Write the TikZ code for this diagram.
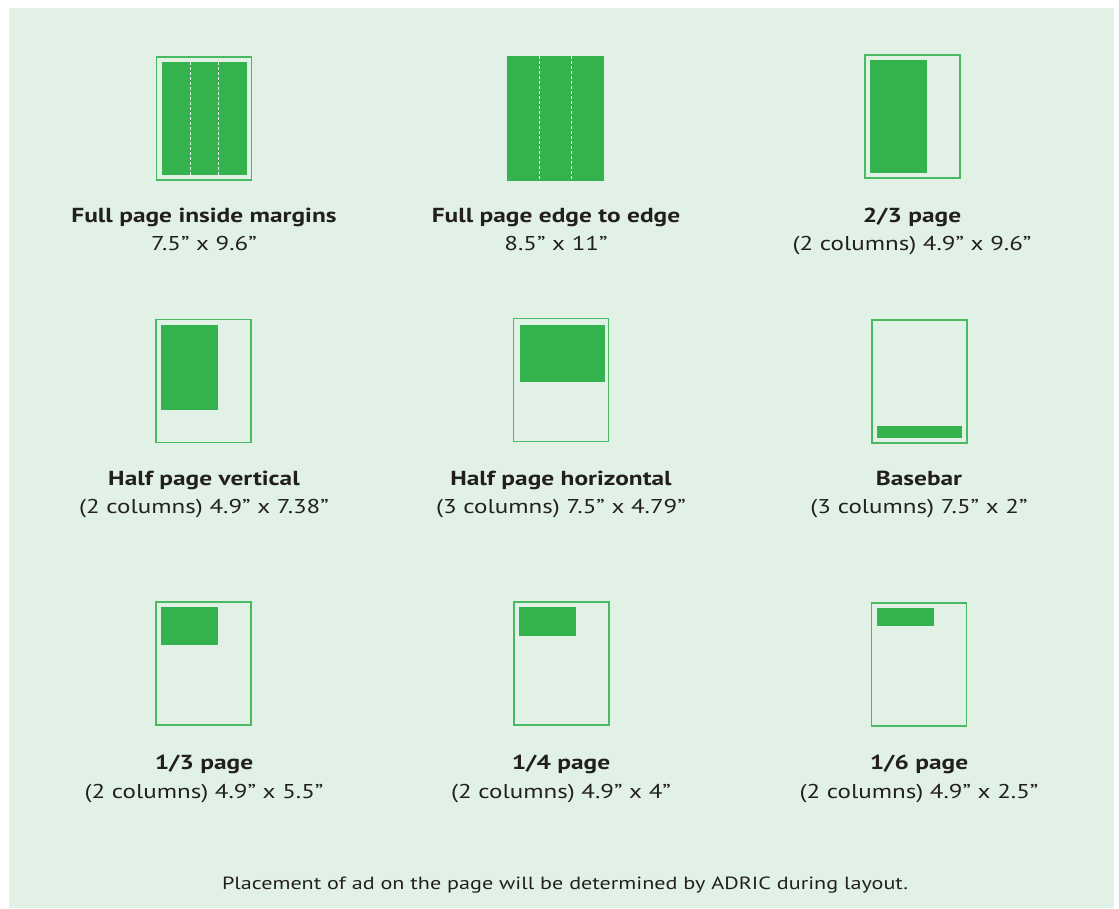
\documentclass[tikz,border=0pt]{standalone}
\usepackage{fontspec}
\setmainfont[FakeStretch=1.25]{PT Sans}
\usetikzlibrary{positioning,calc}
\definecolor{AdBack}{RGB}{225,241,230}
\definecolor{AdGreen}{RGB}{51,178,77}
\definecolor{AdLine}{RGB}{72,187,98}
\definecolor{AdText}{RGB}{35,31,32}
\tikzset{
  ad/page/.style={
    draw=AdLine,
    line width=1.3pt,
    fill=AdBack,
    inner sep=0pt,
    outer sep=0pt,
    minimum width=95pt,
    minimum height=123pt
  },
  ad/fill/.style={fill=AdGreen, inner sep=0pt, outer sep=0pt},
  ad/colline/.style={draw=AdBack!60!white, line width=0.9pt, dash pattern=on 3pt off 2pt},
  ad/title/.style={font=\fontsize{20.3}{24}\selectfont\bfseries, text=AdText, anchor=base, inner sep=0pt},
  ad/size/.style={font=\fontsize{20}{24}\selectfont, text=AdText, anchor=base, inner sep=0pt},
  ad/note/.style={font=\fontsize{17.7}{22}\selectfont, text=AdText, anchor=base, inner sep=0pt}
}

\begin{document}
\begin{tikzpicture}[x=1pt,y=-1pt]
  \useasboundingbox (0,0) rectangle (1119,908);
  \fill[AdBack] (9,8) rectangle (1114,908);

  % row 1
  \node[ad/page] (p1) at (204,118.5) {};
  \node[ad/fill,minimum width=85pt,minimum height=113pt] (f1) at (204.5,118.5) {};
  \node[ad/fill,minimum width=97pt,minimum height=125pt] (f2) at (555.5,118.5) {};
  \node[ad/page] (p3) at (912.5,116.5) {};
  \node[ad/fill,minimum width=57pt,minimum height=113pt,below right=5pt and 5pt of p3.north west] (f3) {};
  \foreach \f in {f1,f2}{
    \draw[ad/colline] ($(\f.north west)!1/3!(\f.north east)$) -- ($(\f.south west)!1/3!(\f.south east)$);
    \draw[ad/colline] ($(\f.north west)!2/3!(\f.north east)$) -- ($(\f.south west)!2/3!(\f.south east)$);
  }
  \node[ad/title] (t1) at (204,222) {Full page inside margins};
  \node[ad/size] (s1) at (204,250) {7.5” x 9.6”};
  \node[ad/title] (t2) at (556,222) {Full page edge to edge};
  \node[ad/size] (s2) at (556,250) {8.5” x 11”};
  \node[ad/title] (t3) at (912,222) {2/3 page};
  \node[ad/size] (s3) at (912,250) {(2 columns) 4.9” x 9.6”};

  % row 2
  \node[ad/page] (p4) at (203.5,381) {};
  \node[ad/fill,minimum width=57pt,minimum height=85pt,below right=5pt and 5pt of p4.north west] (f4) {};
  \node[ad/page] (p5) at (561,380) {};
  \node[ad/fill,minimum width=85pt,minimum height=57pt,below right=6pt and 6pt of p5.north west] (f5) {};
  \node[ad/page] (p6) at (919.5,381.5) {};
  \node[ad/fill,minimum width=85pt,minimum height=12pt,above right=5pt and 5pt of p6.south west] (f6) {};
  \node[ad/title] (t4) at (204,485) {Half page vertical};
  \node[ad/size] (s4) at (204,513) {(2 columns) 4.9” x 7.38”};
  \node[ad/title] (t5) at (561,485) {Half page horizontal};
  \node[ad/size] (s5) at (561,513) {(3 columns) 7.5” x 4.79”};
  \node[ad/title] (t6) at (919,485) {Basebar};
  \node[ad/size] (s6) at (919,513) {(3 columns) 7.5” x 2”};

  % row 3
  \node[ad/page] (p7) at (203.5,663.5) {};
  \node[ad/fill,minimum width=57pt,minimum height=38pt,below right=5pt and 5pt of p7.north west] (f7) {};
  \node[ad/page] (p8) at (561.5,663.5) {};
  \node[ad/fill,minimum width=57pt,minimum height=29pt,below right=5pt and 5pt of p8.north west] (f8) {};
  \node[ad/page] (p9) at (919,664.5) {};
  \node[ad/fill,minimum width=57pt,minimum height=18pt,below right=5pt and 5pt of p9.north west] (f9) {};
  \node[ad/title] (t7) at (204,769) {1/3 page};
  \node[ad/size] (s7) at (204,798) {(2 columns) 4.9” x 5.5”};
  \node[ad/title] (t8) at (561,769) {1/4 page};
  \node[ad/size] (s8) at (561,798) {(2 columns) 4.9” x 4”};
  \node[ad/title] (t9) at (919,769) {1/6 page};
  \node[ad/size] (s9) at (919,798) {(2 columns) 4.9” x 2.5”};

  \node[ad/note] (note) at (565,889) {Placement of ad on the page will be determined by ADRIC during layout.};
\end{tikzpicture}
\end{document}
